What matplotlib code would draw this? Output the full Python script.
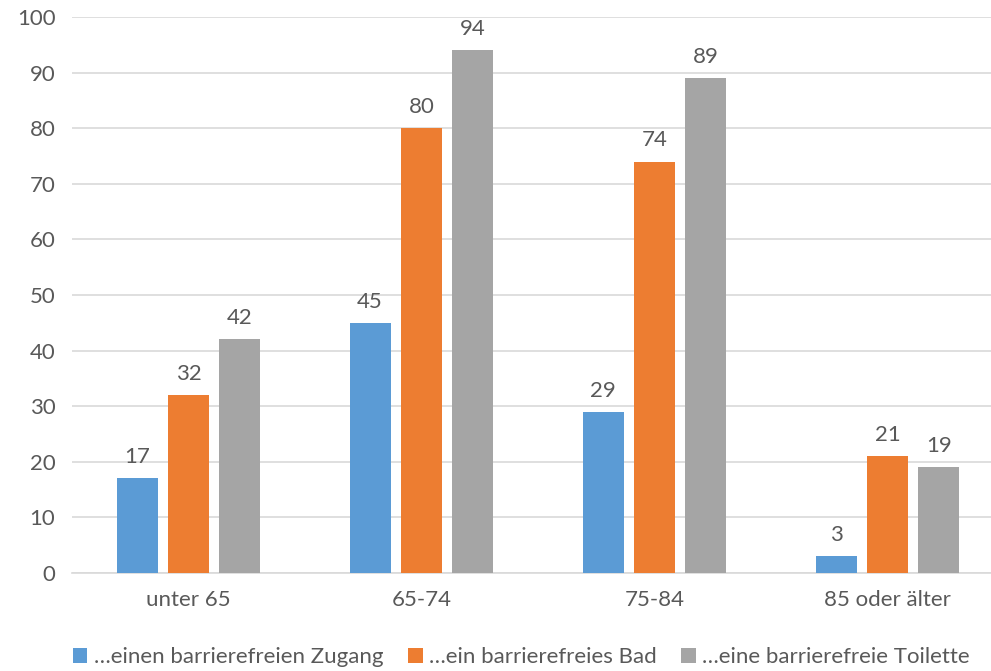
import numpy as np
import matplotlib
matplotlib.use("Agg")
import matplotlib.pyplot as plt

plt.rcParams['font.family'] = ['Lato', 'DejaVu Sans']

categories = ['unter 65', '65-74', '75-84', '85 oder älter']
series_names = ['…einen barrierefreien Zugang', '…ein barrierefreies Bad', '…eine barrierefreie Toilette']
zugang = [17, 45, 29, 3]
bad = [32, 80, 74, 21]
toilette = [42, 94, 89, 19]
colors = ['#5B9BD5', '#ED7D31', '#A5A5A5']

fig = plt.figure(figsize=(9.91, 6.71), dpi=100)
ax = fig.add_axes([72 / 991, 98 / 671, 932 / 991, 556 / 671])

x = np.arange(len(categories))
width = 0.176
step = 0.221
text_col = '#595959'
fs = 16

for i, (vals, name) in enumerate(zip([zugang, bad, toilette], series_names)):
    pos = x + (i - 1) * step
    bars = ax.bar(pos, vals, width, color=colors[i], label=name, zorder=3)
    for b, v in zip(bars, vals):
        ax.annotate(str(v), (b.get_x() + b.get_width() / 2, v), xytext=(0, 8),
                    textcoords='offset points', ha='center', va='bottom',
                    fontsize=fs, color=text_col)

ax.set_xlim(-0.5, 3.5)
ax.set_ylim(0, 100)
ax.set_yticks(range(0, 101, 10))
ax.set_xticks(x)
ax.set_xticklabels(categories)
ax.yaxis.grid(True, color='#d9d9d9', linewidth=1.2, zorder=0)
for s in ['top', 'right', 'left']:
    ax.spines[s].set_visible(False)
ax.spines['bottom'].set_color('#d9d9d9')
ax.spines['bottom'].set_linewidth(1.2)
ax.tick_params(axis='both', length=0, labelsize=fs, labelcolor=text_col)
ax.tick_params(axis='y', pad=12)
ax.tick_params(axis='x', pad=12)

fig.legend(loc='center left', bbox_to_anchor=(53 / 991, 14 / 671), ncol=3, frameon=False,
           fontsize=fs, labelcolor=text_col, handlelength=0.65, handleheight=0.65,
           handletextpad=0.3, columnspacing=1.1)

fig.savefig('out.png', dpi=100)
